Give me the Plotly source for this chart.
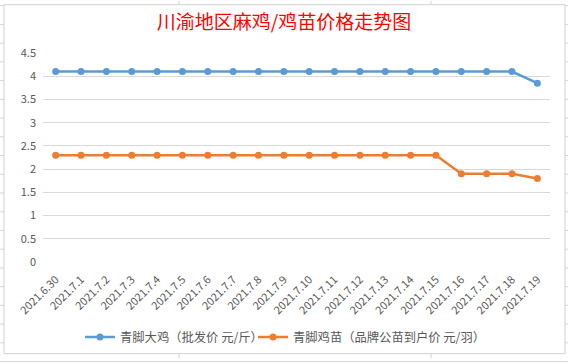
import plotly.graph_objects as go

dates = ["2021.6.30", "2021.7.1", "2021.7.2", "2021.7.3", "2021.7.4", "2021.7.5", "2021.7.6",
         "2021.7.7", "2021.7.8", "2021.7.9", "2021.7.10", "2021.7.11", "2021.7.12", "2021.7.13",
         "2021.7.14", "2021.7.15", "2021.7.16", "2021.7.17", "2021.7.18", "2021.7.19"]
big_chicken = [4.1] * 19 + [3.85]
chick = [2.3] * 16 + [1.9, 1.9, 1.9, 1.8]
name_big = "青脚大鸡（批发价 元/斤）"
name_chick = "青脚鸡苗（品牌公苗到户价 元/羽）"
title = "川渝地区麻鸡/鸡苗价格走势图"

W, H = 568, 363
L, R, T, B = 43, 18, 53, 98
pw, ph = W - L - R, H - T - B

def px_x(x):
    return (x - L) / pw

def px_y(y):
    return 1 - (y - T) / ph

font = "Noto Sans CJK SC, Microsoft YaHei, sans-serif"

fig = go.Figure()
fig.add_trace(go.Scatter(x=dates, y=big_chicken, name=name_big, mode="lines+markers",
                         line=dict(color="#5B9BD5", width=2.5), marker=dict(size=7, color="#5B9BD5"),
                         legend="legend"))
fig.add_trace(go.Scatter(x=dates, y=chick, name=name_chick, mode="lines+markers",
                         line=dict(color="#ED7D31", width=2.5), marker=dict(size=7, color="#ED7D31"),
                         legend="legend2"))

shapes = []
# spreadsheet background grid
for yy in range(-2, H + 20, 19):
    shapes.append(dict(type="line", xref="paper", yref="paper", x0=px_x(0), x1=px_x(W),
                       y0=px_y(yy + 7), y1=px_y(yy + 7), line=dict(color="#d4d4d4", width=1), layer="below"))
for xx in [179, 431]:
    shapes.append(dict(type="line", xref="paper", yref="paper", x0=px_x(xx), x1=px_x(xx),
                       y0=px_y(0), y1=px_y(H), line=dict(color="#d4d4d4", width=1), layer="below"))
# chart frame
shapes.append(dict(type="rect", xref="paper", yref="paper", x0=px_x(4), x1=px_x(565),
                   y0=px_y(358), y1=px_y(4), fillcolor="white", line=dict(color="#d0d0d0", width=1),
                   layer="below"))

legend_font = dict(size=12.3, color="#595959", family=font)

fig.update_layout(
    width=W, height=H,
    margin=dict(l=L, r=R, t=T, b=B),
    paper_bgcolor="white", plot_bgcolor="rgba(0,0,0,0)",
    shapes=shapes,
    title=dict(text=title, x=0.5, xref="container", xanchor="center", y=1 - 22 / H, yanchor="middle",
               font=dict(family=font, size=19, color="#FF0000")),
    font=dict(family=font, color="#595959"),
    showlegend=True,
    legend=dict(orientation="h", x=px_x(80), xanchor="left", y=px_y(341), yanchor="middle",
                font=legend_font, bgcolor="rgba(0,0,0,0)"),
    legend2=dict(orientation="h", x=px_x(253), xanchor="left", y=px_y(341), yanchor="middle",
                 font=legend_font, bgcolor="rgba(0,0,0,0)"),
    xaxis=dict(type="category", tickangle=-45, tickfont=dict(size=11, color="#595959"),
               showgrid=False, showline=False, ticks="", range=[-0.5, 19.5], automargin=False,
               ticklabelstandoff=8),
    yaxis=dict(range=[0, 4.5], tickvals=[0, 0.5, 1, 1.5, 2, 2.5, 3, 3.5, 4, 4.5],
               ticktext=["0", "0.5", "1", "1.5", "2", "2.5", "3", "3.5", "4", "4.5"],
               gridcolor="#d9d9d9", gridwidth=1, zeroline=False, showline=False,
               tickfont=dict(size=11, color="#595959"), ticks="", ticklabelstandoff=6,
               automargin=False),
)

fig.write_html("out.html", config={"displayModeBar": False},
               post_script="document.body.style.margin='0';document.body.style.overflow='hidden';")
